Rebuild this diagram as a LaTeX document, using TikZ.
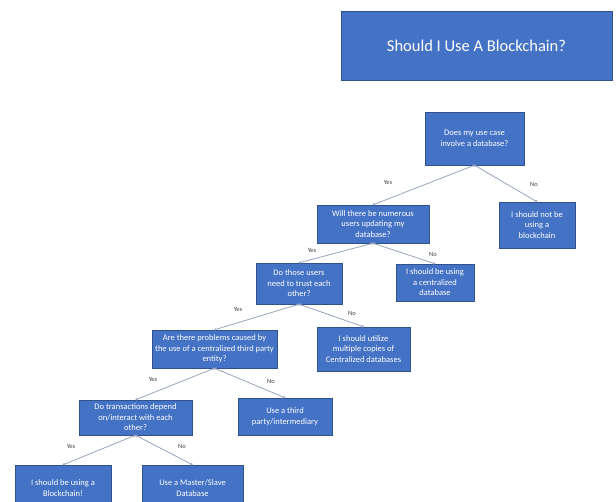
\documentclass[tikz,border=0pt]{standalone}
\usepackage{fontspec}
\setmainfont{Carlito}
\usepackage{xcolor}
\usepackage{tikz}
\usetikzlibrary{
    arrows.meta,
    positioning
}
\definecolor{boxblue}{HTML}{4472C4}
\definecolor{boxedge}{HTML}{2F528F}
\definecolor{linkgray}{HTML}{97A5BF}
\definecolor{labelgray}{HTML}{404040}
\tikzset{
    titlebox/.style={
        rectangle,
        fill=boxblue,
        draw=boxedge,
        thin,
        text=white,
        align=center,
        inner sep=0pt,
        font=\fontsize{16.5}{19}\selectfont
    },
    qbox/.style={
        rectangle,
        fill=boxblue,
        draw=boxedge,
        thin,
        text=white,
        align=center,
        inner sep=0pt,
        font=\fontsize{8.5}{10.5}\selectfont
    },
    link/.style={
        {Circle[length=2.2pt]}-{Circle[length=2.2pt]},
        draw=linkgray,
        line width=0.8pt
    },
    answer/.style={
        text=labelgray,
        font=\fontsize{6.5}{7}\selectfont
    }
}

\begin{document}
\begin{tikzpicture}[x=1pt, y=-1pt]

\useasboundingbox (0,0) rectangle (616,502);
\clip (0,0) rectangle (616,502);

\node[titlebox, minimum width=271pt, minimum height=69pt] (title) at (476.5,45.5) {Should I Use A Blockchain?};

\node[qbox, minimum width=99pt, minimum height=53pt] (q1) at (474.5,138.5) {Does my use case\\involve a database?};
\node[qbox, minimum width=76pt, minimum height=46pt] (n1) at (537,225) {I should not be\\using a\\blockchain};
\node[qbox, minimum width=112pt, minimum height=38pt] (q2) at (373,224) {Will there be numerous\\users updating my\\database?};
\node[qbox, minimum width=78pt, minimum height=37pt] (n2) at (435,282.5) {I should be using\\a centralized\\database};
\node[qbox, minimum width=86pt, minimum height=41pt] (q3) at (299,283.5) {Do those users\\need to trust each\\other?};
\node[qbox, minimum width=93pt, minimum height=44pt] (n3) at (363.5,349) {I should utilize\\multiple copies of\\Centralized databases};
\node[qbox, minimum width=125pt, minimum height=38pt] (q4) at (214.5,349) {Are there problems caused by\\the use of a centralized third party\\entity?};
\node[qbox, minimum width=94pt, minimum height=37pt] (n4) at (285,416.5) {Use a third\\party/intermediary};
\node[qbox, minimum width=113pt, minimum height=35pt] (q5) at (135.5,417.5) {Do transactions depend\\on/interact with each\\other?};
\node[qbox, minimum width=96pt, minimum height=46pt] (y5) at (63,488) {I should be using a\\Blockchain!};
\node[qbox, minimum width=101pt, minimum height=46pt] (n5) at (192.5,488) {Use a Master/Slave\\Database};

\draw[link] (q1.south) -- (q2.north);
\draw[link] (q1.south) -- (n1.north);
\draw[link] (q2.south) -- (q3.north);
\draw[link] (q2.south) -- (n2.north);
\draw[link] (q3.south) -- (q4.north);
\draw[link] (q3.south) -- (n3.north);
\draw[link] (q4.south) -- (q5.north);
\draw[link] (q4.south) -- (n4.north);
\draw[link] (q5.south) -- (y5.north);
\draw[link] (q5.south) -- (n5.north);

\node[answer] (yes1) at (388,182) {Yes};
\node[answer] (no1) at (534,184) {No};
\node[answer] (yes2) at (312,250) {Yes};
\node[answer] (no2) at (433,254) {No};
\node[answer] (yes3) at (238,309) {Yes};
\node[answer] (no3) at (352,313) {No};
\node[answer] (yes4) at (153,379) {Yes};
\node[answer] (no4) at (271,381) {No};
\node[answer] (yes5) at (71,446) {Yes};
\node[answer] (no5) at (182,446) {No};

\end{tikzpicture}
\end{document}
